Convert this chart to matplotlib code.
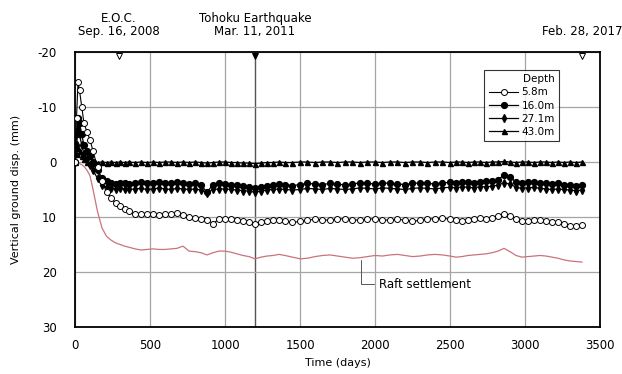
import matplotlib.pyplot as plt
import numpy as np

plt.rcParams['axes.unicode_minus'] = False

# tiempo (dias) desde el inicio de la medicion
t = [0, 10, 20, 30, 45, 60, 80, 100, 120, 150, 180, 210, 240, 270, 300, 330, 360, 400,
     440, 480, 520, 560, 600, 640, 680, 720, 760, 800, 840, 880, 920, 960, 1000, 1040,
     1080, 1120, 1160, 1200, 1240, 1280, 1320, 1360, 1400, 1450, 1500, 1550, 1600, 1650,
     1700, 1750, 1800, 1850, 1900, 1950, 2000, 2050, 2100, 2150, 2200, 2250, 2300, 2350,
     2400, 2450, 2500, 2540, 2580, 2620, 2660, 2700, 2740, 2780, 2820, 2860, 2900, 2940,
     2980, 3020, 3060, 3100, 3140, 3180, 3220, 3260, 3300, 3340, 3380]

d58 = [0, -8, -14.5, -13, -10, -7, -5.5, -4, -2, 1, 3.5, 5.5, 6.5, 7.5, 8, 8.5, 9, 9.5,
       9.5, 9.5, 9.5, 9.7, 9.4, 9.5, 9.3, 9.6, 10, 10.2, 10.3, 10.5, 11.2, 10.4, 10.3, 10.4,
       10.6, 10.8, 11, 11.2, 11, 10.8, 10.6, 10.5, 10.7, 11, 10.8, 10.6, 10.4, 10.5,
       10.6, 10.4, 10.3, 10.5, 10.6, 10.4, 10.3, 10.5, 10.6, 10.4, 10.6, 10.8, 10.6, 10.4,
       10.3, 10.2, 10.4, 10.6, 10.7, 10.5, 10.4, 10.2, 10.3, 10.1, 9.8, 9.4, 9.8, 10.4,
       10.8, 10.7, 10.6, 10.5, 10.7, 10.9, 11, 11.3, 11.6, 11.6, 11.5]

d160 = [0, -5, -8, -7, -5, -3, -2, -1, 0, 1.5, 3, 3.5, 3.8, 4, 3.8, 3.9, 4, 3.8,
        3.7, 3.9, 3.8, 3.6, 3.8, 3.9, 3.7, 3.8, 4, 3.9, 4.2, 5.5, 4.1, 3.9, 4, 4.1,
        4.2, 4.3, 4.5, 4.8, 4.6, 4.4, 4.2, 4, 4.1, 4.3, 4.1, 3.9, 4, 4.1,
        3.9, 4, 4.2, 4, 3.8, 3.9, 4, 3.8, 3.9, 4, 4.1, 3.9, 3.8, 3.9,
        4, 3.8, 3.7, 3.8, 3.6, 3.7, 3.8, 3.6, 3.5, 3.4, 3.2, 2.4, 2.8, 3.6,
        3.8, 3.7, 3.6, 3.8, 3.9, 4, 3.9, 4.1, 4.2, 4.3, 4.2]

d271 = [0, -3, -6, -5, -3, -1.5, -0.5, 0.5, 1.5, 3, 4.2, 4.6, 4.8, 4.9, 4.8, 4.9, 5, 4.9,
        4.8, 5, 4.9, 4.7, 4.9, 5, 4.8, 4.9, 5, 4.9, 5.1, 5.6, 5, 4.9, 4.9, 5,
        5.1, 5.2, 5.3, 5.5, 5.3, 5.1, 5, 4.9, 5, 5.1, 5, 4.8, 4.9, 5,
        4.8, 4.9, 5, 4.9, 4.7, 4.8, 4.9, 4.7, 4.8, 4.9, 5, 4.8, 4.7, 4.8,
        4.9, 4.7, 4.6, 4.7, 4.5, 4.6, 4.7, 4.5, 4.5, 4.4, 4.2, 3.8, 4, 4.6,
        4.8, 4.7, 4.6, 4.8, 4.9, 5, 4.9, 5, 5.1, 5.2, 5.1]

d430 = [0, -1.5, -2.5, -2, -1, -0.5, 0, 0.2, 0.2, 0.1, 0, 0.1, 0, 0.1, 0, 0.1, 0, 0.1,
        0, 0.1, 0, 0.1, 0, 0, 0.1, 0, 0.1, 0, 0.1, 0.2, 0.1, 0, 0, 0.1,
        0.1, 0.2, 0.2, 0.3, 0.2, 0.1, 0.1, 0, 0.1, 0.1, 0, 0, 0.1, 0,
        0, 0.1, 0, 0, 0.1, 0, 0, 0.1, 0, 0, 0.1, 0, 0, 0.1,
        0, 0, 0.1, 0, 0, 0.1, 0, 0, 0.1, 0, 0, -0.1, 0, 0.1,
        0, 0, 0.1, 0, 0, 0.1, 0, 0.1, 0, 0.1, 0]

raft = [0, 0, 0.2, 0.3, 0.5, 0.8, 1.5, 2.5, 5, 9, 12, 13.5, 14.2, 14.7, 15, 15.3, 15.5, 15.8,
        16, 15.9, 15.8, 15.9, 15.9, 15.8, 15.7, 15.3, 16.2, 16.3, 16.5, 16.9, 16.5, 16.2, 16.2, 16.4,
        16.7, 17, 17.2, 17.6, 17.3, 17.1, 17, 16.8, 17, 17.3, 17.6, 17.5, 17.2, 17,
        16.9, 17.1, 17.3, 17.5, 17.4, 17.2, 17, 17.1, 16.9, 16.8, 17, 17.2, 17.1, 16.9,
        16.8, 16.9, 17.1, 17.3, 17.2, 17, 16.9, 16.8, 16.7, 16.5, 16.2, 15.7, 16.3, 17,
        17.3, 17.2, 17.1, 17, 17.1, 17.3, 17.5, 17.8, 18, 18.1, 18.2]

events_x = [290, 1200, 3380]
events_txt = ["E.O.C.\nSep. 16, 2008", "Tohoku Earthquake\nMar. 11, 2011", "Feb. 28, 2017"]
events_fill = ["none", "black", "none"]

fig = plt.figure(figsize=(6.22, 3.74), dpi=100)
ax = fig.add_axes([0.1206, 0.1257, 0.8440, 0.7353])

ax.plot(t, raft, color="#c9737d", lw=0.9, zorder=2)
ax.plot(t, d430, color="black", lw=0.9, marker="^", ms=3.6, label="43.0m", zorder=3)
ax.plot(t, d271, color="black", lw=0.9, marker="d", ms=3.8, label="27.1m", zorder=3)
ax.plot(t, d160, color="black", lw=0.9, marker="o", ms=4.2, label="16.0m", zorder=3)
ax.plot(t, d58, color="black", lw=0.8, marker="o", ms=4.3, mfc="white", mew=0.7,
        label="5.8m", zorder=4)

ax.set_xlim(0, 3500)
ax.set_ylim(30, -20)
ax.set_xticks(np.arange(0, 3501, 500))
ax.set_yticks([-20, -10, 0, 10, 20, 30])
ax.tick_params(labelsize=8.5, length=0)
ax.tick_params(axis="y", pad=13)
ax.tick_params(axis="x", pad=9)
ax.grid(True, color="#a5a5a5", lw=0.9)
ax.axvline(1200, color="#555555", lw=1.0, zorder=1)
for s in ax.spines.values():
    s.set_linewidth(1.3)

ax.set_xlabel("Time (days)", fontsize=8, labelpad=4)
ax.set_ylabel("Vertical ground disp. (mm)", fontsize=8, labelpad=12)

for x, txt, fc in zip(events_x, events_txt, events_fill):
    ax.plot(x, -19.3, marker="v", ms=5, mfc=fc, mec="black", mew=0.7, clip_on=False, zorder=6)
    ax.annotate(txt, (x, -20), xytext=(0, 10), textcoords="offset points",
                ha="center", va="bottom", fontsize=8.5, linespacing=1.0)

ax.annotate("Raft settlement", xy=(1910, 17.4), xytext=(2030, 22.2),
            fontsize=8.5, va="center", ha="left",
            arrowprops=dict(arrowstyle="-", color="#555555", lw=0.7,
                            connectionstyle="angle,angleA=0,angleB=90,rad=0"))

handles, labels = ax.get_legend_handles_labels()
leg = ax.legend(handles[::-1], labels[::-1], title="Depth", fontsize=7.5, title_fontsize=7.5,
                loc="upper left", bbox_to_anchor=(0.77, 0.955), frameon=True, fancybox=False,
                edgecolor="black", handlelength=2.8, handletextpad=0.3, borderpad=0.45,
                labelspacing=0.3)
leg.get_frame().set_linewidth(0.8)
leg._legend_box.align = "right"

plt.savefig("out.png", dpi=100)
